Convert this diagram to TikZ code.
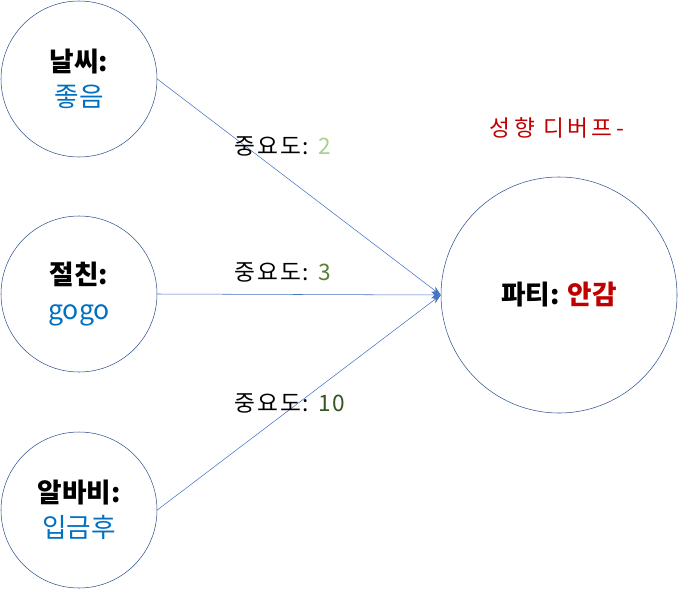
\documentclass[tikz,border=0pt]{standalone}
\usepackage{fontspec}
\setmainfont{Noto Sans CJK KR}
\usetikzlibrary{arrows.meta}
\definecolor{rim}{HTML}{2F528F}
\definecolor{wire}{HTML}{4472C4}
\definecolor{val}{HTML}{0070C0}
\definecolor{bad}{HTML}{C00000}
\definecolor{wlow}{HTML}{A9D18E}
\definecolor{wmid}{HTML}{548235}
\definecolor{whigh}{HTML}{375623}
\begin{document}
\begin{tikzpicture}[x=0.75pt,y=-0.75pt,>={Stealth[length=7pt,width=5pt]}, line join=round,
	factor/.style={circle,draw=rim,thin,minimum size=117pt,inner sep=0pt,align=center,font=\fontsize{20}{26}\selectfont},
	goal/.style={circle,draw=rim,thin,minimum size=177pt,inner sep=0pt,font=\fontsize{20}{24}\selectfont},
	link/.style={->,wire,thin},
	weight/.style={font=\fontsize{17}{20}\selectfont\addfontfeature{LetterSpace=8}}]
	\useasboundingbox (0,0) rectangle (678,589);
	% inputs
	\node[factor] (weather) at (79,79) {\textbf{날씨:}\\\textcolor{val}{좋음}};
	\node[factor] (friend) at (79,294) {\textbf{절친:}\\\textcolor{val}{gogo}};
	\node[factor] (wage) at (79,510) {\textbf{알바비:}\\\textcolor{val}{입금후}};
	% output
	\node[goal] (party) at (559,295) {\textbf{파티:} \textcolor{bad}{\textbf{안감}}};
	\node[font=\fontsize{17}{20}\selectfont\addfontfeature{LetterSpace=15},text=bad] (debuff) at (557,128) {성향 디버프-};
	\draw[link] (weather.east) -- (party.west);
	\draw[link] (friend.east) -- (party.west);
	\draw[link] (wage.east) -- (party.west);
	\node[weight] (w1) at (283,146) {중요도: \textcolor{wlow}{2}};
	\node[weight] (w2) at (283,272) {중요도: \textcolor{wmid}{3}};
	\node[weight] (w3) at (290,403) {중요도: \textcolor{whigh}{10}};
\end{tikzpicture}
\end{document}
